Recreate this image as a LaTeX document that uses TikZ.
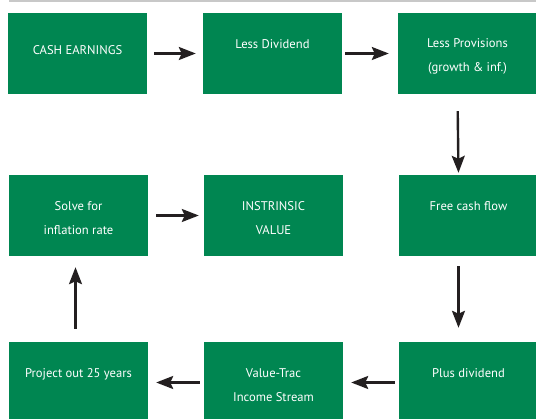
\documentclass[tikz,border=0pt]{standalone}
\usepackage{fontspec}
\setmainfont{PT Sans}
\usetikzlibrary{arrows.meta}
\definecolor{boxgreen}{RGB}{0,134,81}
\definecolor{arrowblack}{RGB}{35,31,32}
\definecolor{rulegrey}{RGB}{200,200,200}
\begin{document}
\begin{tikzpicture}[x=1pt,y=-1pt,
		box/.style={fill=boxgreen,text=white,minimum width=139pt,minimum height=81pt,inner sep=0pt,align=center,font=\fontsize{12.6}{24}\selectfont},
		arr/.style={-{Stealth[length=17pt,width=13pt,inset=3pt]},line width=2.4pt,draw=arrowblack,shorten <=7pt,shorten >=7pt}]
	\def\up{\rule{0pt}{14pt}} % pushes the first line down
	\useasboundingbox (0,0) rectangle (536,419);
	\draw[rulegrey,line width=1.5pt] (9,1) -- (536,1);
	% top row
	\node[box] (cash) at (77.5,53.5) {\rule[-7pt]{0pt}{7pt}CASH EARNINGS};
	\node[box] (div) at (272.5,53.5) {\up Less Dividend\\\mbox{}};
	\node[box] (prov) at (467.5,53.5) {\up Less Provisions\\(growth \& inf.)};
	% middle row
	\node[box] (solve) at (78.5,215.5) {\up Solve for\\inflation rate};
	\node[box] (value) at (273.5,215.5) {\up INSTRINSIC\\VALUE};
	\node[box] (free) at (468.5,215.5) {\up Free cash flow\\\mbox{}};
	% bottom row
	\node[box] (proj) at (78.5,382.5) {\up Project out 25 years\\\mbox{}};
	\node[box] (stream) at (273.5,382.5) {\up Value-Trac\\Income Stream};
	\node[box] (plus) at (468.5,382.5) {\up Plus dividend\\\mbox{}};
	% arrows
	\draw[arr] (cash.east) -- (div.west);
	\draw[arr,shorten <=3pt,shorten >=9pt] (div.east) -- (prov.west);
	\draw[arr,shorten <=17pt,shorten >=2pt] ([xshift=-10pt]prov.south) -- ([xshift=-10pt]free.north);
	\draw[arr,shorten <=10pt,shorten >=14pt] ([xshift=-10pt]free.south) -- ([xshift=-10pt]plus.north);
	\draw[arr,shorten <=4pt,shorten >=8pt] (plus.west) -- (stream.east);
	\draw[arr,shorten <=4pt,shorten >=8pt] (stream.west) -- (proj.east);
	\draw[arr,shorten <=13pt,shorten >=11pt] ([xshift=-3pt]proj.north) -- ([xshift=-3pt]solve.south);
	\draw[arr,shorten <=8pt,shorten >=5pt] (solve.east) -- (value.west);
\end{tikzpicture}
\end{document}
